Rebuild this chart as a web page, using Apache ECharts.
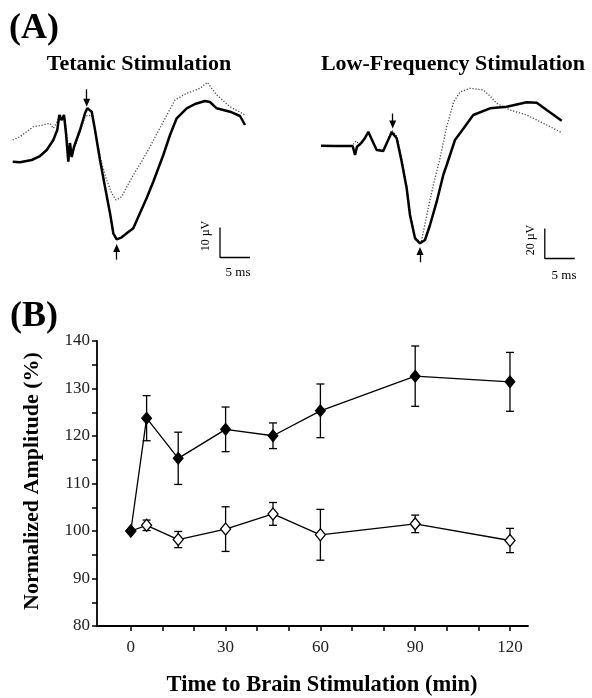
<!DOCTYPE html>
<html><head><meta charset="utf-8">
<script src="https://cdn.jsdelivr.net/npm/echarts@6/dist/echarts.min.js"></script>
<style>html,body{margin:0;padding:0;background:#fff}#c{width:592px;height:698px}</style>
</head><body><div id="c"></div>
<script>
// ---------- Panel A: field potential traces [time (ms), amplitude (uV)] ----------
const tetanicAfter = [[0.45,-0.57],[1.67,-0.77],[3.62,0],[5,1.33],[6.12,3.33],[7.22,6.67],[7.88,10],[8.22,15],[8.58,13.3],[9,15],[9.33,9],[9.72,-0.57],[10,5.67],[10.28,1],[10.67,4.43],[11.67,10],[12.5,15.57],[12.88,17.23],[13.62,16.1],[14.17,10],[15,0],[15.83,-8.9],[16.67,-17.77],[17.22,-24.43],[17.78,-26.43],[18.62,-25.77],[19.45,-24.43],[20.55,-22.77],[21.67,-17.67],[22.78,-12.67],[23.88,-7.23],[25.55,1.67],[26.67,8.33],[27.78,13.9],[29.45,17.23],[30.83,18.67],[32.5,19.67],[33.33,19.33],[34.45,17.23],[36.67,16.1],[38.33,14.67],[39.17,11.67]];
const tetanicBefore = [[0.45,6.67],[1.67,7.77],[2.78,9.43],[3.88,11.1],[5.55,11.67],[6.67,12.23],[7.22,10.57],[7.83,12.67],[8.33,15],[9.17,13.33],[9.72,4.43],[10.28,2.33],[10.83,4.43],[11.67,9.43],[12.5,14.43],[13.05,15],[13.78,14.43],[14.45,6.67],[15.28,-1.1],[16.12,-6.67],[16.95,-11.1],[17.67,-13.33],[18.62,-12.23],[19.45,-9],[20.55,-5],[21.95,-0.5],[23.33,4.43],[25.55,12.77],[27.5,20],[29.45,22.23],[31.67,23.9],[32.88,25.9],[34.45,21.67],[36.67,17.77],[39.17,15]];
const lowFreqAfter = [[0.5,0.2],[2.83,0],[5.78,0],[6.17,-6],[6.5,-0.47],[7.17,1.8],[7.83,5.33],[8.38,9.53],[9,4],[9.78,-2.67],[10.88,-3.33],[11.45,1.8],[12.28,9.13],[13.12,5.13],[13.95,-10.47],[14.78,-28.2],[15.33,-46],[16.17,-61.53],[17,-64.87],[17.83,-62.67],[18.67,-52.67],[19.78,-37.13],[20.88,-19.33],[21.45,-12.67],[22,-6],[22.83,4],[23.67,8.47],[25.88,20.67],[28.67,25.13],[31.45,26.2],[34.78,29.13],[36.45,28.87],[38.12,24],[40.62,16.87]];
const lowFreqBefore = [[0.5,0],[5.67,0],[6.33,3.33],[7,0.67],[7.83,4.67],[8.38,8.67],[9,4.67],[9.78,-2],[10.88,-2.67],[11.45,2.67],[12.28,10.67],[13.12,6.67],[13.95,-8],[14.78,-26.67],[15.33,-44.67],[16.17,-60.67],[17.17,-64.67],[18.38,-41.53],[19.22,-26],[20.33,-8.2],[21.45,12.87],[22.62,29.53],[23.67,36],[25.33,38.47],[27.55,37.33],[28.67,33.33],[29.78,28.47],[32,24],[34.78,20.67],[38.12,14],[40.62,8.87]];
// arrows: [time, from, to]
const tetanicArrows = [[12.78,23.6,19.1],[17.78,-33.2,-29.3]];
const lowFreqArrows = [[12.45,21.6,14.4],[17.0,-77.5,-70.0]];
// scale bars: [time origin, amplitude origin, ms length, uV length]
const tetanicBar = [35,-32.5,5,10];
const lowFreqBar = [37.8,-75,5,20];

// ---------- Panel B ----------
const times = [0,5,15,30,45,60,90,120];
const tetanicMean = [100,123.75,115.3,121.4,120.05,125.3,132.6,131.4];
const tetanicErr  = [0,4.75,5.5,4.7,2.7,5.65,6.35,6.2];
const lowMean = [100,101.2,98.2,100.4,103.6,99.2,101.5,98.0];
const lowErr  = [0,1.1,1.7,4.7,2.4,5.35,1.85,2.55];
const xLabelValues = [0,30,60,90,120];
const xTickValues = [0,10,20,30,40,50,60,70,80,90,100,110,120];
const yTickValues = [80,85,90,95,100,105,110,115,120,125,130,135,140];

const SERIF = '"Liberation Serif","DejaVu Serif",serif';
const chart = echarts.init(document.getElementById('c'), null, {renderer:'canvas'});

function arrowLine(arrows){
  return {silent:true, symbol:['none','triangle'], symbolSize:[7,8], animation:false,
    label:{show:false}, lineStyle:{color:'#000', width:1.3, type:'solid'},
    emphasis:{disabled:true},
    data: arrows.map(a => [{coord:[a[0],a[1]]},{coord:[a[0],a[2]]}])};
}
function barSeries(bar, idx){
  return {type:'line', xAxisIndex:idx, yAxisIndex:idx, symbol:'none', silent:true,
    lineStyle:{color:'#000', width:1.3},
    data:[[bar[0],bar[1]+bar[3]],[bar[0],bar[1]],[bar[0]+bar[2],bar[1]]]};
}
function errSeries(mean, err){
  return {type:'custom', xAxisIndex:2, yAxisIndex:2, silent:true, z:3,
    data: times.map((t,i)=>[t, mean[i]-err[i], mean[i]+err[i]]),
    encode:{x:0, y:[1,2]},
    renderItem:(params, api)=>{
      if (api.value(2) - api.value(1) <= 0) return null;
      const lo = api.coord([api.value(0), api.value(1)]);
      const hi = api.coord([api.value(0), api.value(2)]);
      const w = 4;
      const st = {stroke:'#000', lineWidth:1.3, fill:null};
      return {type:'group', children:[
        {type:'line', shape:{x1:lo[0],y1:lo[1],x2:hi[0],y2:hi[1]}, style:st},
        {type:'line', shape:{x1:lo[0]-w,y1:lo[1],x2:lo[0]+w,y2:lo[1]}, style:st},
        {type:'line', shape:{x1:hi[0]-w,y1:hi[1],x2:hi[0]+w,y2:hi[1]}, style:st}
      ]};
    }};
}
function txt(text, x, y, size, bold, rot){
  return {type:'text', x:x, y:y, rotation: rot||0, silent:true,
    style:{text:text, font:(bold?'bold ':'')+size+'px '+SERIF, fill:'#000', textAlign:'center', textVerticalAlign:'middle'}};
}

const option = {
  animation:false,
  backgroundColor:'#fff',
  grid:[
    {left:10, top:70, width:240, height:195},
    {left:318, top:71, width:258, height:195},
    {left:97, top:341, right:64, bottom:72}
  ],
  xAxis:[
    {gridIndex:0, type:'value', min:0, max:40, show:false},
    {gridIndex:1, type:'value', min:0, max:43, show:false},
    {gridIndex:2, type:'value', min:-10.7, max:125.7,
      axisLine:{show:true, onZero:false, lineStyle:{color:'#000', width:1.8}},
      axisTick:{show:true, customValues:xTickValues, length:5, lineStyle:{color:'#000', width:1.5}},
      axisLabel:{customValues:xLabelValues, margin:13, fontFamily:SERIF, fontSize:17, color:'#222'},
      splitLine:{show:false}}
  ],
  yAxis:[
    {gridIndex:0, type:'value', min:-35, max:30, show:false},
    {gridIndex:1, type:'value', min:-80, max:50, show:false},
    {gridIndex:2, type:'value', min:80, max:140, interval:10,
      axisLine:{show:true, onZero:false, lineStyle:{color:'#000', width:1.8}},
      axisTick:{show:true, customValues:yTickValues, length:5, lineStyle:{color:'#000', width:1.5}},
      axisLabel:{margin:7, fontFamily:SERIF, fontSize:17, color:'#222'},
      splitLine:{show:false}}
  ],
  series:[
    {type:'line', xAxisIndex:0, yAxisIndex:0, data:tetanicBefore, symbol:'none', silent:true,
      lineStyle:{color:'#444', width:1.3, type:[1.2,1.8]}},
    {type:'line', xAxisIndex:0, yAxisIndex:0, data:tetanicAfter, symbol:'none', silent:true,
      lineStyle:{color:'#000', width:2.5}, markLine:arrowLine(tetanicArrows)},
    barSeries(tetanicBar, 0),
    {type:'line', xAxisIndex:1, yAxisIndex:1, data:lowFreqBefore, symbol:'none', silent:true,
      lineStyle:{color:'#444', width:1.3, type:[1.2,1.8]}},
    {type:'line', xAxisIndex:1, yAxisIndex:1, data:lowFreqAfter, symbol:'none', silent:true,
      lineStyle:{color:'#000', width:2.5}, markLine:arrowLine(lowFreqArrows)},
    barSeries(lowFreqBar, 1),
    errSeries(lowMean, lowErr),
    errSeries(tetanicMean, tetanicErr),
    {type:'line', xAxisIndex:2, yAxisIndex:2, z:4, data:times.map((t,i)=>[t,lowMean[i]]),
      symbol:'diamond', symbolSize:[10,12], silent:true,
      itemStyle:{color:'#fff', borderColor:'#000', borderWidth:1.3},
      lineStyle:{color:'#000', width:1.3}},
    {type:'line', xAxisIndex:2, yAxisIndex:2, z:5, data:times.map((t,i)=>[t,tetanicMean[i]]),
      symbol:'diamond', symbolSize:[10,12], silent:true,
      itemStyle:{color:'#000', borderColor:'#000', borderWidth:1},
      lineStyle:{color:'#000', width:1.3}}
  ],
  graphic:[
    txt('(A)', 34, 29, 36, true),
    txt('(B)', 34, 317, 36, true),
    txt('Tetanic Stimulation', 139, 64, 22, true),
    txt('Low-Frequency Stimulation', 453, 64, 22, true),
    txt('10 \u00b5V', 206, 236, 12, false, Math.PI/2),
    txt('5 ms', 238, 273, 13, false),
    txt('20 \u00b5V', 531, 240, 12, false, Math.PI/2),
    txt('5 ms', 564, 276, 13, false),
    txt('Normalized Amplitude (%)', 32, 481, 22, true, Math.PI/2),
    txt('Time to Brain Stimulation (min)', 322, 685, 22.5, true)
  ]
};
chart.setOption(option);
</script></body></html>
